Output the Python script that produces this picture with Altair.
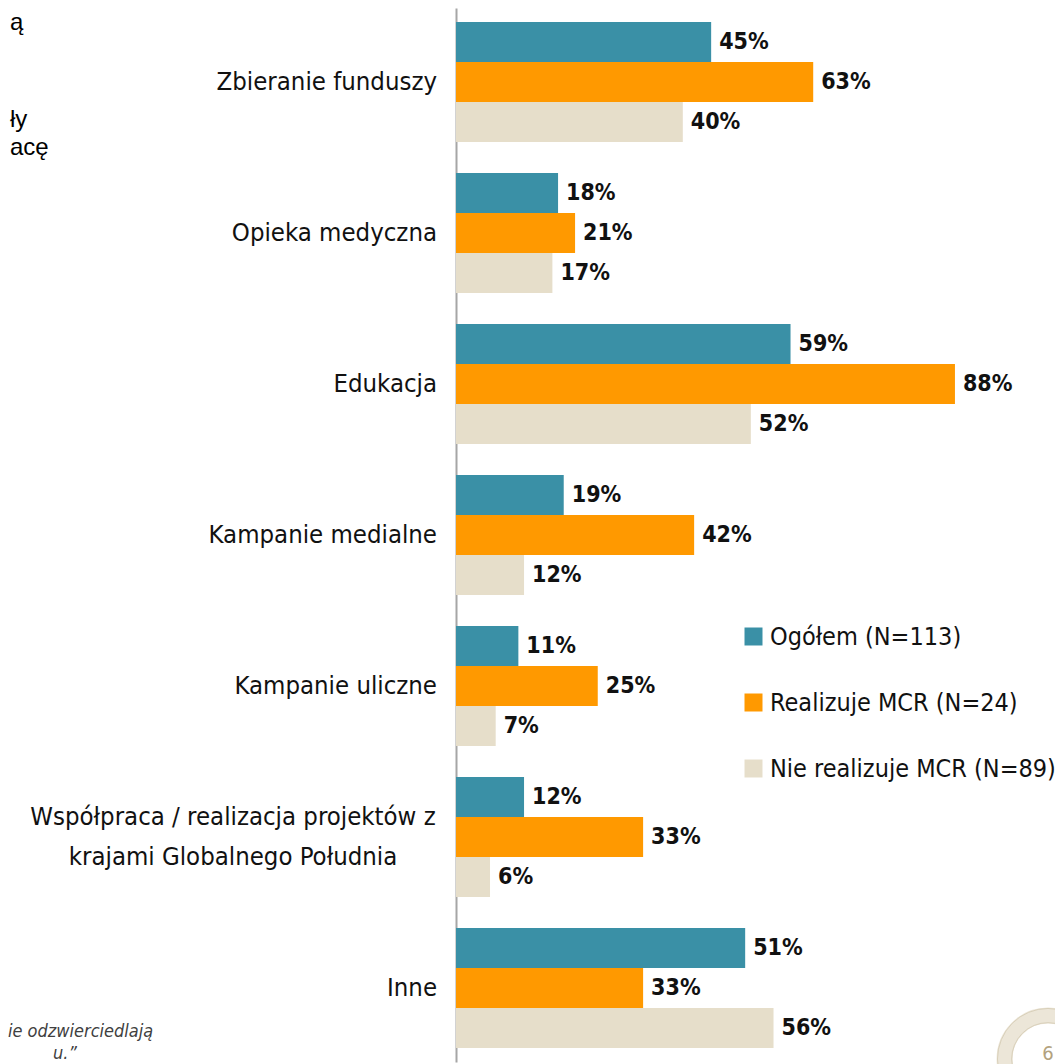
import altair as alt
import pandas as pd

categories = [
    "Zbieranie funduszy",
    "Opieka medyczna",
    "Edukacja",
    "Kampanie medialne",
    "Kampanie uliczne",
    "Współpraca / realizacja projektów z krajami Globalnego Południa",
    "Inne",
]
long_cat = categories[5]
long_line1 = "Współpraca / realizacja projektów z"
long_line2 = "krajami Globalnego Południa"

series_names = ["Ogółem (N=113)", "Realizuje MCR (N=24)", "Nie realizuje MCR (N=89)"]
ogolem = [45, 18, 59, 19, 11, 12, 51]
realizuje = [63, 21, 88, 42, 25, 33, 33]
nie_realizuje = [40, 17, 52, 12, 7, 6, 56]
colors = ["#3A90A6", "#FF9900", "#E6DECA"]

rows = []
for s, vals in zip(series_names, [ogolem, realizuje, nie_realizuje]):
    for c, v in zip(categories, vals):
        rows.append({"cat": c, "series": s, "value": v})
df = pd.DataFrame(rows)

FONT = "DejaVu Sans Condensed, DejaVu Sans"
CAT_SIZE = 25.5

y_enc = alt.Y(
    "cat:N",
    sort=categories,
    scale=alt.Scale(paddingInner=0.205, paddingOuter=0.093),
    axis=alt.Axis(labels=False, ticks=False, title=None, domainColor="#A6A6A6",
                  domainWidth=2, grid=False),
)
yoff = alt.YOffset("series:N", sort=series_names,
                   scale=alt.Scale(domain=series_names, paddingInner=0, paddingOuter=0))
x_enc = alt.X("value:Q", scale=alt.Scale(domain=[0, 100]), axis=None)

bars = alt.Chart(df).mark_bar().encode(
    y=y_enc,
    yOffset=yoff,
    x=x_enc,
    color=alt.Color(
        "series:N",
        sort=series_names,
        scale=alt.Scale(domain=series_names, range=colors),
        legend=alt.Legend(
            orient="none", legendX=285, legendY=616, title=None,
            symbolType="square", symbolSize=324, symbolStrokeWidth=0,
            labelFontSize=25, labelFont=FONT, labelColor="#111111",
            rowPadding=40, labelOffset=4, padding=0, symbolOffset=0,
            labelLimit=500,
        ),
    ),
)

values = alt.Chart(df).transform_calculate(
    lbl="datum.value + '%'"
).mark_text(
    align="left", baseline="middle", dx=8, fontSize=23, fontWeight="bold",
    font=FONT, color="#111111"
).encode(y=y_enc, yOffset=yoff, x=x_enc, text="lbl:N")

lab_df = pd.DataFrame({"cat": categories})
cat_labels = alt.Chart(lab_df).transform_filter(
    alt.datum.cat != long_cat
).mark_text(
    align="right", baseline="middle", fontSize=CAT_SIZE, font=FONT, color="#111111"
).encode(y=y_enc, x=alt.value(-19), text="cat:N")

long_df = pd.DataFrame({"cat": [long_cat], "l1": [long_line1], "l2": [long_line2]})
long1 = alt.Chart(long_df).mark_text(
    align="center", baseline="middle", fontSize=CAT_SIZE, font=FONT, color="#111111", dy=-20
).encode(y=y_enc, x=alt.value(-223), text="l1:N")
long2 = alt.Chart(long_df).mark_text(
    align="center", baseline="middle", fontSize=CAT_SIZE, font=FONT, color="#111111", dy=20
).encode(y=y_enc, x=alt.value(-223), text="l2:N")

# slide fragments (cropped text from the original slide)
def fragment(text, y):
    return alt.Chart(pd.DataFrame({"t": [text]})).mark_text(
        align="left", baseline="alphabetic", fontSize=24, font="Liberation Sans",
        color="#000000"
    ).encode(x=alt.value(-446), y=alt.value(y), text="t:N")

frag1 = fragment("ą", 22)
frag2 = fragment("ły", 119)
frag3 = fragment("acę", 147)

foot_df = pd.DataFrame({"t": ["ie odzwierciedlają"]})
foot1 = alt.Chart(foot_df).mark_text(
    align="left", baseline="middle", fontSize=18, fontStyle="italic", font=FONT, color="#404040"
).encode(x=alt.value(-448), y=alt.value(1024), text="t:N")
foot2_df = pd.DataFrame({"t": ["u.”"]})
foot2 = alt.Chart(foot2_df).mark_text(
    align="left", baseline="middle", fontSize=18, fontStyle="italic", font=FONT, color="#404040"
).encode(x=alt.value(-403), y=alt.value(1046), text="t:N")

ring_df = pd.DataFrame({"t": ["6"]})
ring = alt.Chart(ring_df).mark_point(
    shape="circle", filled=False, size=7543, strokeWidth=16, color="#ECE6D8", opacity=1
).encode(x=alt.value(592), y=alt.value(1051))
ring_out = alt.Chart(ring_df).mark_point(
    shape="circle", filled=False, size=10207, strokeWidth=1, color="#D9D0BA", opacity=1
).encode(x=alt.value(592), y=alt.value(1051))
ring_in = alt.Chart(ring_df).mark_point(
    shape="circle", filled=False, size=5281, strokeWidth=1, color="#D9D0BA", opacity=1
).encode(x=alt.value(592), y=alt.value(1051))
page_num = alt.Chart(ring_df).mark_text(
    align="center", baseline="middle", fontSize=20, font=FONT, color="#B3A27E"
).encode(x=alt.value(592), y=alt.value(1046), text="t:N")

chart = alt.layer(
    bars, values, cat_labels, long1, long2, frag1, frag2, frag3, foot1, foot2,
    ring, ring_out, ring_in, page_num
).properties(
    width=567, height=1054,
    background="white",
    autosize=alt.AutoSizeParams(type="none"),
    padding={"left": 448, "top": 0, "right": 32, "bottom": 2},
).configure_view(strokeWidth=0, stroke="transparent")

chart.save("out.html", embed_options={"renderer": "svg", "actions": False})
